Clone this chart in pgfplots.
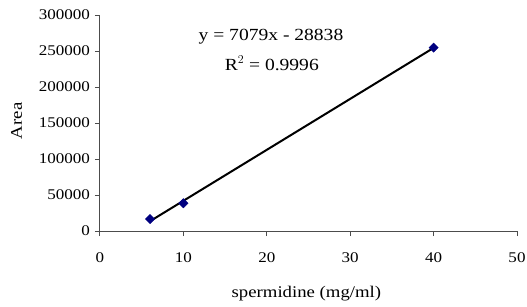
\documentclass[border=0pt]{standalone}
\usepackage{pgfplots}
\pgfplotsset{compat=1.18}
\usepackage{fontspec}
\setmainfont{Liberation Serif}[FakeStretch=1.15]
\definecolor{navy}{RGB}{0,0,128}
\begin{document}
\fontsize{14.8}{17}\selectfont
\begin{tikzpicture}
\path[use as bounding box] (-100pt,-75pt) rectangle (427pt,231pt);
\begin{axis}[
  at={(0pt,0pt)}, anchor=south west,
  scale only axis,
  width=417pt, height=216pt,
  xmin=0, xmax=50, ymin=0, ymax=300000,
  xtick={0,10,...,50},
  ytick={0,50000,...,300000},
  axis x line*=bottom, axis y line*=left,
  axis line style={-, draw=black!70, line width=1pt},
  tick style={draw=black!70, line width=1pt},
  major tick length=5pt,
  tick align=outside,
  scaled y ticks=false,
  /pgf/number format/assume math mode=true,
  yticklabel style={/pgf/number format/fixed, /pgf/number format/1000 sep={}, font=\fontsize{14.8}{17}\selectfont},
  xticklabel style={font=\fontsize{14.8}{17}\selectfont, yshift=-12pt},
  xlabel={spermidine (mg/ml)},
  ylabel={Area},
  xlabel style={at={(axis description cs:0.495,-0.29)}, anchor=center},
  ylabel style={at={(axis description cs:-0.2,0.51)}, anchor=center},
  label style={font=\fontsize{16.3}{19}\selectfont},
  clip=false,
]
\addplot[black, line width=2pt] coordinates {(6,13636) (40,254322)};
\addplot[only marks, mark=square*, mark size=3.3pt, mark options={rotate=45, draw=navy, fill=navy}] coordinates {(6,16636) (10,38552) (40,254722)};
\node[font=\fontsize{17}{19}\selectfont, anchor=base] at (axis cs:20.5,263900) {y = 7079x - 28838};
\node[font=\fontsize{17}{19}\selectfont, anchor=base] at (axis cs:20.6,223600) {R$^{2}$ = 0.9996};
\end{axis}
\end{tikzpicture}
\end{document}
